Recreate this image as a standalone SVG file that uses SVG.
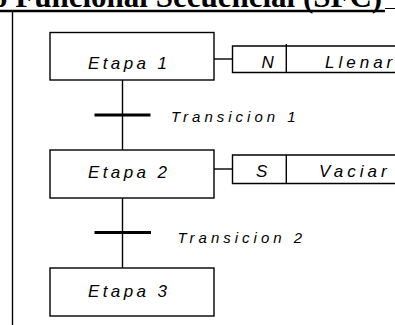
<svg xmlns="http://www.w3.org/2000/svg" width="395" height="325" viewBox="0 0 395 325">
<style>
.box{fill:#fff;stroke:#000;stroke-width:1.4}
.ln{stroke:#000;stroke-width:1.4;fill:none}
.bar{stroke:#000;stroke-width:3;fill:none}
.t{font-family:"Liberation Sans",Arial,sans-serif;font-style:italic;fill:#000}
.st{font-size:17px;letter-spacing:3.4px}
.tr{font-size:15px;letter-spacing:4px}
.ac{font-size:17px;letter-spacing:4px}
</style>
<rect width="395" height="325" fill="#fff"/>
<text x="-8" y="6.5" font-family="'Liberation Serif','Times New Roman',serif" font-weight="bold" font-size="31">o Funcional Secuencial (SFC)</text>
<line x1="0" y1="11" x2="385" y2="11" stroke="#000" stroke-width="2.6"/>
<line x1="385" y1="8.5" x2="395" y2="8.5" stroke="#000" stroke-width="1"/>
<line x1="12.5" y1="11" x2="12.5" y2="325" stroke="#000" stroke-width="1.4"/>
<g id="connectors">
<line class="ln" x1="122.5" y1="80" x2="122.5" y2="150"/>
<line class="bar" x1="94.5" y1="115" x2="150.5" y2="115"/>
<line class="ln" x1="122.5" y1="198" x2="122.5" y2="268"/>
<line class="bar" x1="94.5" y1="232.5" x2="151" y2="232.5"/>
<line class="ln" x1="214" y1="59" x2="232.5" y2="59"/>
<line class="ln" x1="214" y1="169" x2="232.5" y2="169"/>
</g>
<g id="etapa1">
<rect class="box" x="50" y="32.5" width="164" height="47.5"/>
<text class="t st" x="88" y="69.3">Etapa 1</text>
</g>
<g id="accion1">
<path class="ln" d="M400 46H232.5V72.5H400"/>
<line class="ln" x1="286.3" y1="44" x2="286.3" y2="72.5"/>
<text class="t ac" x="261.5" y="68.3">N</text>
<text class="t ac" x="325" y="68.3">Llenar</text>
</g>
<g id="transicion1">
<text class="t tr" x="171" y="122.3">Transicion 1</text>
</g>
<g id="etapa2">
<rect class="box" x="50" y="150" width="164" height="48"/>
<text class="t st" x="88" y="178.3">Etapa 2</text>
</g>
<g id="accion2">
<path class="ln" d="M400 155H232.5V183.5H400"/>
<line class="ln" x1="286.3" y1="155" x2="286.3" y2="183.5"/>
<text class="t ac" x="256" y="177.3">S</text>
<text class="t ac" x="319" y="177.3">Vaciar</text>
</g>
<g id="transicion2">
<text class="t tr" x="177.5" y="242.7">Transicion 2</text>
</g>
<g id="etapa3">
<rect class="box" x="50" y="268" width="164" height="48"/>
<text class="t st" x="88" y="296.7">Etapa 3</text>
</g>
</svg>
